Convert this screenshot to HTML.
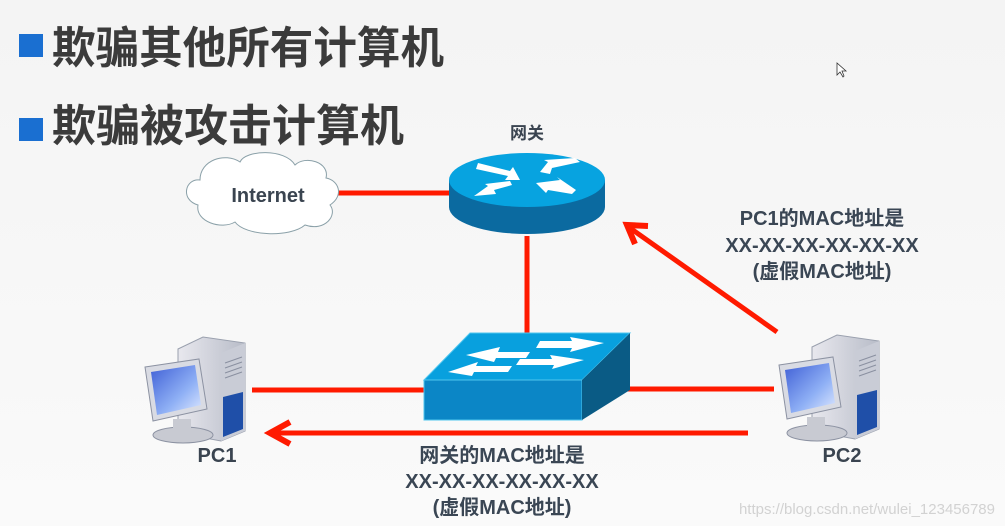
<!DOCTYPE html>
<html><head><meta charset="utf-8"><style>
html,body{margin:0;padding:0;background:#f7f7f7;}
svg{display:block}
.t{font-family:"Liberation Sans","Noto Sans CJK SC",sans-serif;font-weight:bold;}
</style></head><body>
<svg width="1005" height="526" viewBox="0 0 1005 526" xmlns="http://www.w3.org/2000/svg">
<defs>
<linearGradient id="bg" x1="0" y1="0" x2="0" y2="1"><stop offset="0" stop-color="#f4f4f4"/><stop offset="1" stop-color="#fafafa"/></linearGradient>
<linearGradient id="scr" x1="0" y1="0" x2="1" y2="1"><stop offset="0" stop-color="#3f5fd6"/><stop offset="0.6" stop-color="#8fb0f5"/><stop offset="1" stop-color="#dfe9ff"/></linearGradient>
<linearGradient id="case" x1="0" y1="0" x2="1" y2="0"><stop offset="0" stop-color="#e8e8ee"/><stop offset="1" stop-color="#b8bcc8"/></linearGradient>
<g id="pc">
  <path d="M35 12 L60 0 L102 6 L102 94 L78 104 L35 96 Z" fill="url(#case)" stroke="#9aa0ae"/>
  <path d="M78 16 L102 6 L102 94 L78 104 Z" fill="#c9ccd6"/>
  <path d="M80 60 L100 55 L100 92 L80 100 Z" fill="#1f4fa8"/>
  <g stroke="#8a90a0"><line x1="82" y1="26" x2="99" y2="20"/><line x1="82" y1="31" x2="99" y2="25"/><line x1="82" y1="36" x2="99" y2="30"/><line x1="82" y1="41" x2="99" y2="35"/></g>
  <path d="M2 30 L56 22 L64 72 L10 84 Z" fill="#d9dbe3" stroke="#8c92a2"/>
  <path d="M8 35 L52 28 L58 68 L14 78 Z" fill="url(#scr)"/>
  <ellipse cx="40" cy="98" rx="30" ry="8" fill="#c8cad2" stroke="#8c92a2"/>
  <rect x="30" y="82" width="18" height="12" fill="#c8cad2"/>
</g>
</defs>
<rect width="1005" height="526" fill="url(#bg)"/>
<!-- titles -->
<rect x="19" y="34" width="24" height="23" fill="#1a6fd1"/>
<text class="t" x="52" y="63" font-size="44" fill="#3b3b3b" textLength="392" lengthAdjust="spacingAndGlyphs">欺骗其他所有计算机</text>
<rect x="19" y="118" width="24" height="23" fill="#1a6fd1"/>
<text class="t" x="52" y="141" font-size="44" fill="#3b3b3b" textLength="352" lengthAdjust="spacingAndGlyphs">欺骗被攻击计算机</text>
<!-- cursor -->
<path d="M837 63 L837 75 L840 72 L843 77 L844 76 L842 71 L846 71 Z" fill="#fff" stroke="#333" stroke-width="0.8"/>
<!-- lines -->
<g stroke="#ff1a00" stroke-width="5" fill="none">
<line x1="338" y1="193" x2="452" y2="193"/>
<line x1="527" y1="236" x2="527" y2="334"/>
<line x1="252" y1="390" x2="425" y2="390"/>
<line x1="600" y1="389" x2="774" y2="389"/>
<line x1="748" y1="433" x2="275" y2="433"/>
<polyline points="290,422 270,433 290,444" stroke-width="6"/>
<line x1="777" y1="332" x2="630" y2="228"/>
<polyline points="648,226 627,225 635,244" stroke-width="6"/>
</g>
<!-- cloud -->
<path d="M200 180 C185 178 180 200 198 205 C195 222 222 230 235 222 C245 236 290 238 305 225 C325 232 338 215 330 205 C345 195 338 180 326 178 C330 162 305 155 295 165 C285 148 245 150 240 162 C225 152 200 160 200 180 Z" fill="#fff" stroke="#8aa0a8" stroke-width="1"/>
<text class="t" x="268" y="202" font-size="20" fill="#3a4450" text-anchor="middle">Internet</text>
<!-- router -->
<text class="t" x="527" y="139" font-size="17" fill="#3a4450" text-anchor="middle">网关</text>
<path d="M449 180 L449 207 A78 27 0 0 0 605 207 L605 180 Z" fill="#0b6aa0"/>
<ellipse cx="527" cy="180" rx="78" ry="27" fill="#07a3e0"/>
<g fill="#fff">
<path d="M478 163 L510 171 L513 167 L520 180 L505 180 L508 176 L476 169 Z"/>
<path d="M540 172 L548 162 L544 160 L575 158 L580 162 L552 168 L550 174 Z"/>
<path d="M474 196 L488 186 L485 184 L510 181 L512 185 L494 190 L496 194 Z"/>
<path d="M536 183 L560 180 L557 177 L576 190 L572 194 L548 190 L546 193 Z"/>
</g>
<!-- switch -->
<path d="M470 333 L630 333 L582 380 L424 380 Z" fill="#08a0de" stroke="#4fc6ef"/>
<rect x="424" y="380" width="158" height="40" fill="#0b86c6" stroke="#4fc6ef"/>
<path d="M582 380 L630 333 L630 390 L582 420 Z" fill="#0a5b85"/>
<g fill="#fff">
<path d="M466 355 L500 347 L498 352 L530 352 L526 358 L496 358 L494 362 Z"/>
<path d="M448 372 L478 362 L476 366 L512 366 L508 372 L474 372 L472 376 Z"/>
<path d="M540 341 L572 341 L570 337 L604 343 L570 352 L572 348 L536 348 Z"/>
<path d="M520 359 L552 359 L550 355 L584 360 L552 369 L554 365 L516 365 Z"/>
</g>
<!-- PCs -->
<use href="#pc" x="143" y="337"/>
<use href="#pc" x="777" y="335"/>
<text class="t" x="217" y="462" font-size="20" fill="#3a4450" text-anchor="middle">PC1</text>
<text class="t" x="842" y="462" font-size="20" fill="#3a4450" text-anchor="middle">PC2</text>
<!-- labels -->
<g class="t" font-size="20" fill="#3a4654" text-anchor="middle">
<text x="822" y="225">PC1的MAC地址是</text>
<text x="822" y="252">XX-XX-XX-XX-XX-XX</text>
<text x="822" y="278">(虚假MAC地址)</text>
<text x="502" y="462">网关的MAC地址是</text>
<text x="502" y="488">XX-XX-XX-XX-XX-XX</text>
<text x="502" y="514">(虚假MAC地址)</text>
</g>
<text x="995" y="514" font-family="Liberation Sans,sans-serif" font-size="15" fill="#d2d2d2" text-anchor="end">https://blog.csdn.net/wulei_123456789</text>
</svg>
</body></html>
